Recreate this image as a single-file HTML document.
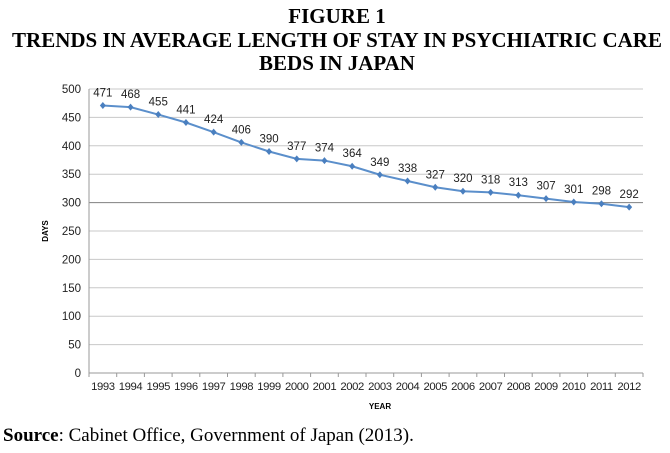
<!DOCTYPE html>
<html><head><meta charset="utf-8"><style>
body{margin:0;background:#fff;width:670px;height:453px;overflow:hidden}
svg{display:block}
</style></head><body>
<svg width="670" height="453" xmlns="http://www.w3.org/2000/svg">
<g font-family="Liberation Serif, serif" font-weight="bold" font-size="21" text-anchor="middle" fill="#000">
<text x="337" y="23">FIGURE 1</text>
<text x="337" y="47">TRENDS IN AVERAGE LENGTH OF STAY IN PSYCHIATRIC CARE</text>
<text x="337" y="70">BEDS IN JAPAN</text>
</g>
<g id="grid"></g>
<g id="axes"></g>
<g id="series"></g>
<text x="380" y="409" font-family="Liberation Sans, sans-serif" font-weight="bold" font-size="8" text-anchor="middle">YEAR</text>
<text transform="translate(48,231) rotate(-90)" font-family="Liberation Sans, sans-serif" font-weight="bold" font-size="8" text-anchor="middle">DAYS</text>
<text x="3" y="441" font-family="Liberation Serif, serif" font-size="19"><tspan font-weight="bold">Source</tspan>: Cabinet Office, Government of Japan (2013).</text>
</svg>
<script>
const years=["1993","1994","1995","1996","1997","1998","1999","2000","2001","2002","2003","2004","2005","2006","2007","2008","2009","2010","2011","2012"];
const days=[471,468,455,441,424,406,390,377,374,364,349,338,327,320,318,313,307,301,298,292];
const yTicks=[0,50,100,150,200,250,300,350,400,450,500];
const NS="http://www.w3.org/2000/svg";
const L=89,R=643,T=89,B=373,band=(R-L)/years.length;
const x=i=>L+band*(i+0.5);
const y=v=>B-(v/500)*(B-T);
function mk(tag,attrs,parent){const e=document.createElementNS(NS,tag);for(const k in attrs)e.setAttribute(k,attrs[k]);parent.appendChild(e);return e;}
const grid=document.getElementById('grid'),axes=document.getElementById('axes'),series=document.getElementById('series');
yTicks.forEach(v=>{
  if(v>0){const g=mk('line',{x1:L,x2:R,y1:y(v),y2:y(v),stroke:v===300?'#808080':'#c8c8c8','stroke-width':1},grid);
  
  }
  const t=mk('text',{x:L-8,y:y(v)+4,'text-anchor':'end','font-family':'Liberation Sans, sans-serif','font-size':11.5,fill:'#222'},axes);
  t.textContent=v;
  
  
});
const ya=mk('line',{x1:L,x2:L,y1:T,y2:B,stroke:'#999'},axes);


const xa=mk('line',{x1:L,x2:R,y1:B,y2:B,stroke:'#999'},axes);


for(let i=0;i<=years.length;i++){mk('line',{x1:L+band*i,x2:L+band*i,y1:B,y2:B+4,stroke:'#999'},axes);}
years.forEach((yr,i)=>{
  const t=mk('text',{x:x(i),y:B+17,'text-anchor':'middle','font-family':'Liberation Sans, sans-serif','font-size':11.3,fill:'#222','letter-spacing':'-0.4'},axes);
  t.textContent=yr;
  
  
});
const line=mk('polyline',{points:days.map((v,i)=>x(i)+','+y(v)).join(' '),fill:'none',stroke:'#5b8fcb','stroke-width':2},series);


days.forEach((v,i)=>{
  const cx=x(i),cy=y(v);
  const m=mk('path',{d:`M${cx},${cy-3.5}L${cx+3},${cy}L${cx},${cy+3.5}L${cx-3},${cy}Z`,fill:'#4a7fbf'},series);
  
  
  const t=mk('text',{x:cx,y:cy-9,'text-anchor':'middle','font-family':'Liberation Sans, sans-serif','font-size':11.5,fill:'#222'},series);
  t.textContent=v;
  
  
});
</script>
</body></html>
